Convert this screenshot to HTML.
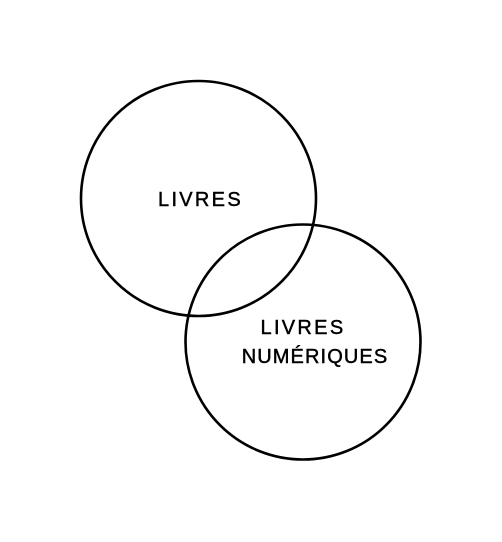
<!DOCTYPE html>
<html><head><meta charset="utf-8"><style>
html,body{margin:0;padding:0;background:#fff;}
svg{display:block;}
text{font-family:"Liberation Sans",sans-serif;font-size:20px;letter-spacing:2.3px;fill:#000;stroke:#000;stroke-width:0.45;}
text.n{letter-spacing:1.1px;}
</style></head><body>
<svg width="502" height="542" viewBox="0 0 502 542">
<circle cx="198.5" cy="198.5" r="117.5" fill="none" stroke="#000" stroke-width="2.6"/>
<circle cx="303" cy="342" r="117.5" fill="none" stroke="#000" stroke-width="2.6"/>
<text x="200.5" y="206" text-anchor="middle">LIVRES</text>
<text x="303" y="334" text-anchor="middle">LIVRES</text>
<text class="n" x="315" y="363" text-anchor="middle">NUMÉRIQUES</text>
</svg>
</body></html>
